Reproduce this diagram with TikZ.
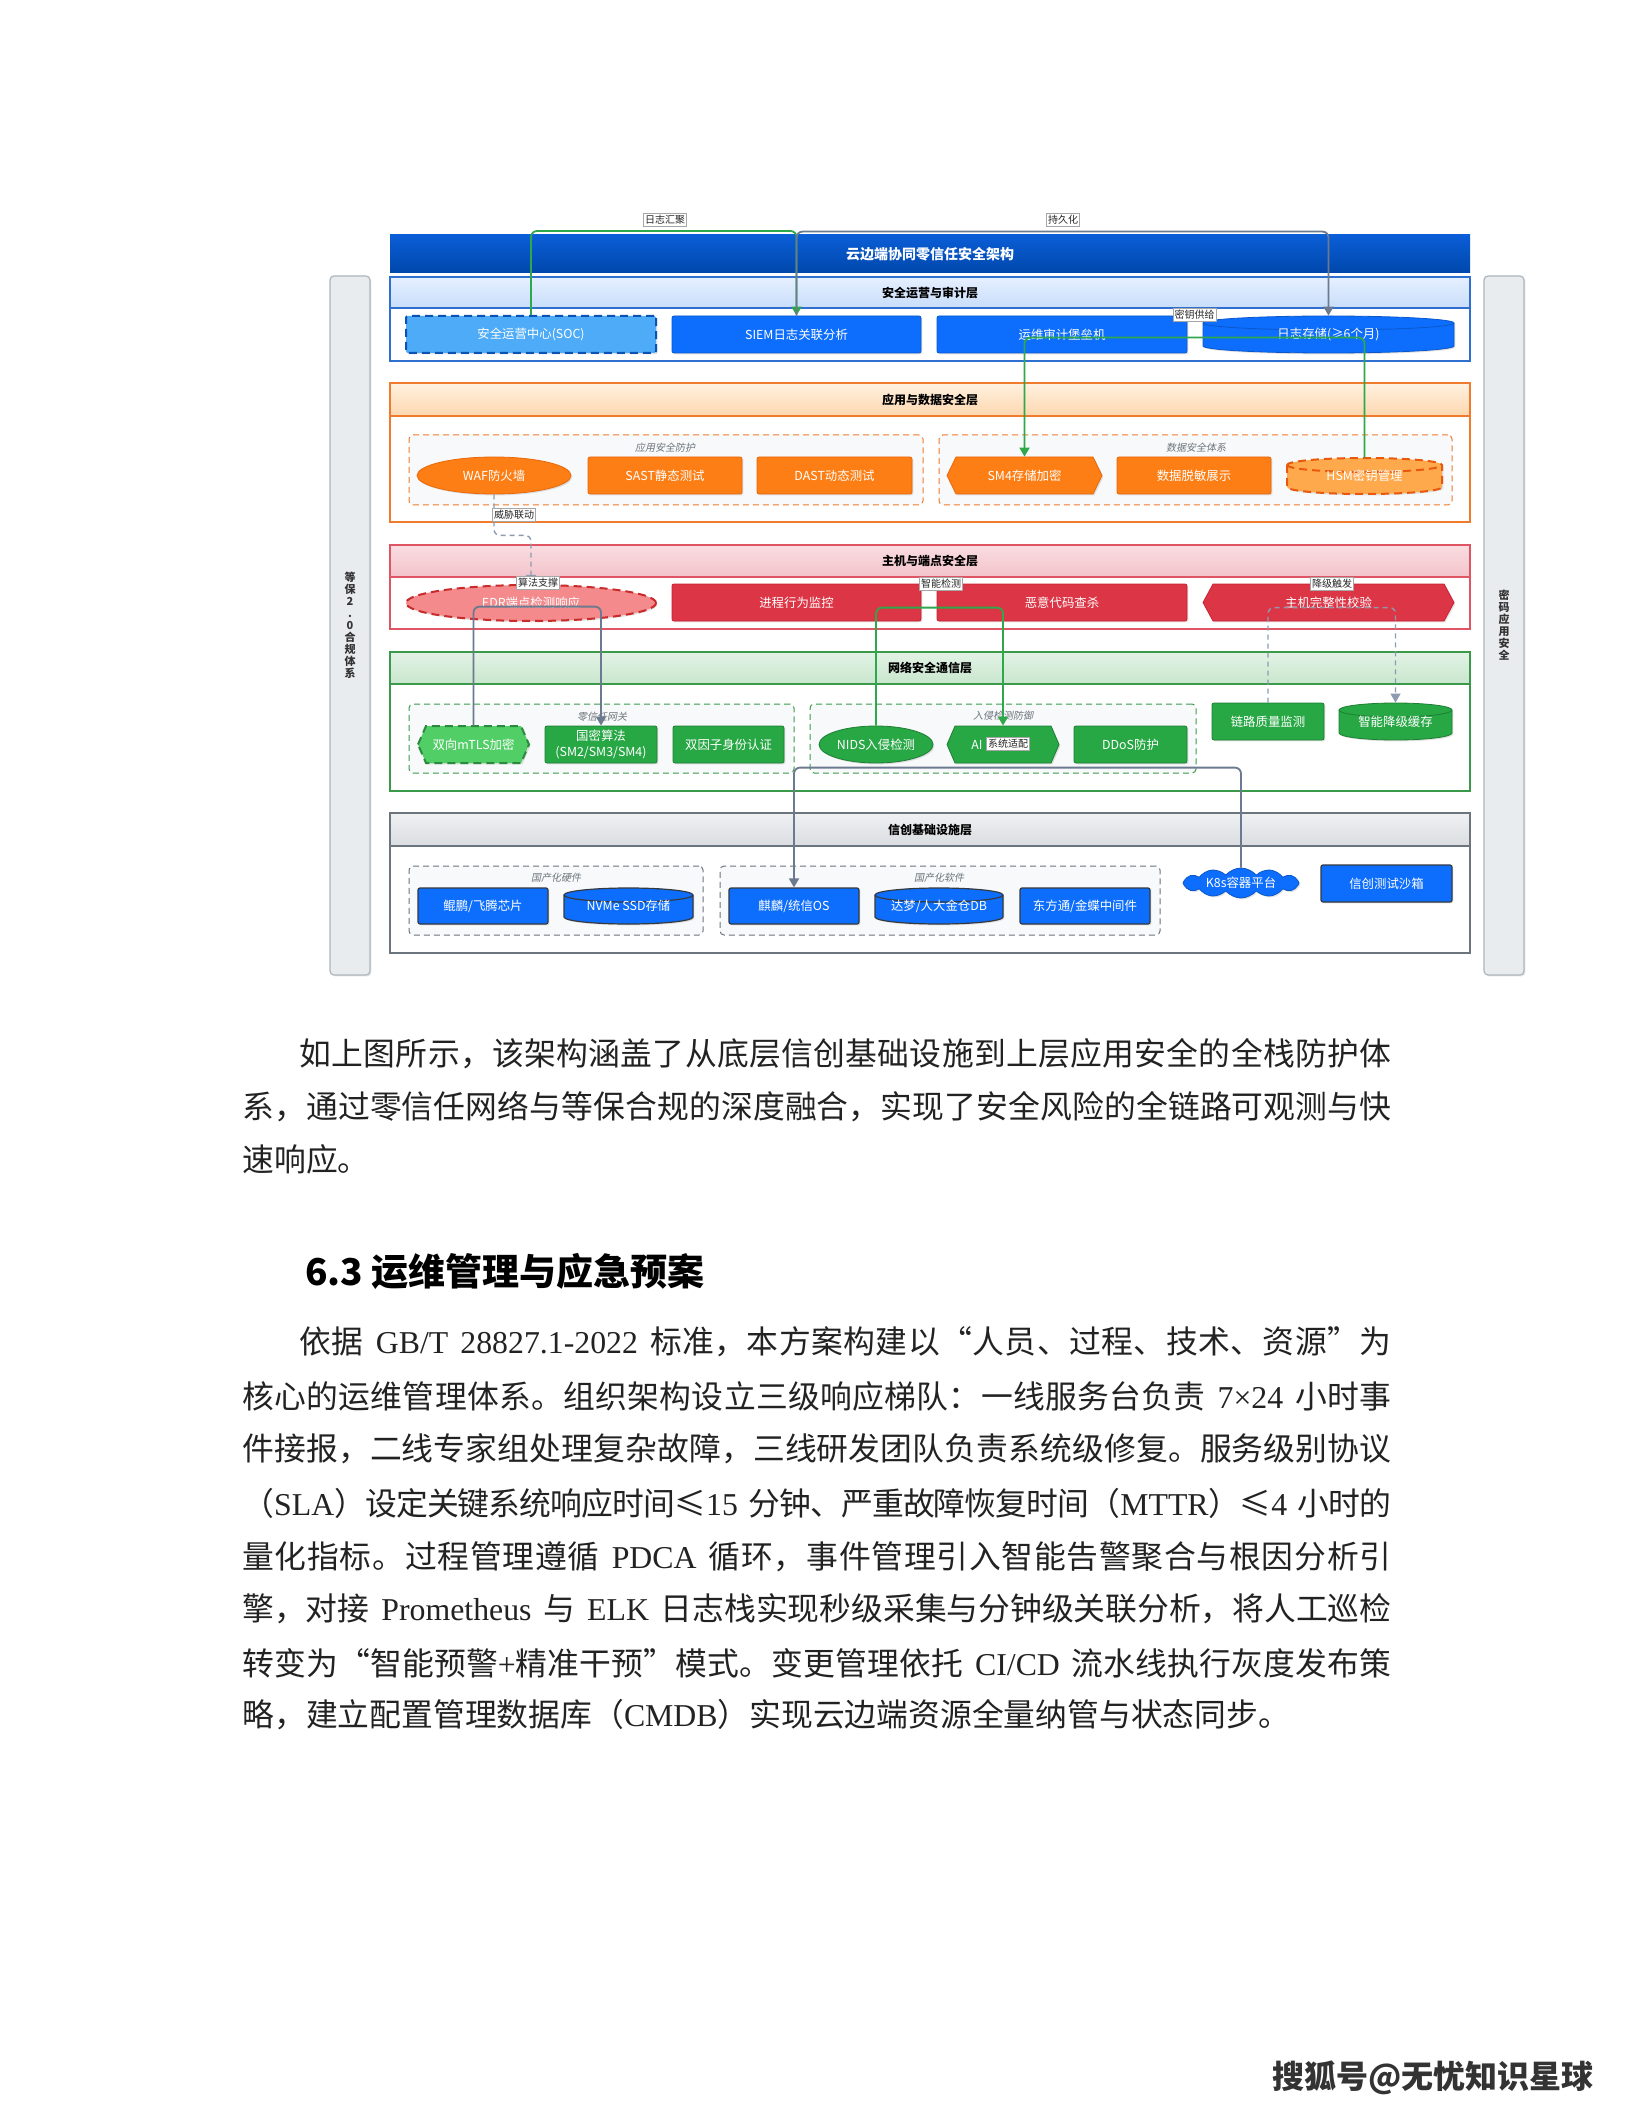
\documentclass[tikz,border=0pt]{standalone}
\usepackage{fontspec}
\setmainfont{Noto Sans CJK SC}
\newfontfamily\slantf[FakeSlant=0.2]{Noto Sans CJK SC}
\newfontfamily\lat{Liberation Serif}
\usetikzlibrary{shapes.geometric,shapes.symbols,arrows.meta,shadows}
\newcount\cjkc
\cjkc="4E00
\loop \XeTeXcharclass\cjkc=1 \advance\cjkc by 1 \ifnum\cjkc<"A000 \repeat
\cjkc="3000
\loop \XeTeXcharclass\cjkc=1 \advance\cjkc by 1 \ifnum\cjkc<"3040 \repeat
\cjkc="FF00
\loop \XeTeXcharclass\cjkc=1 \advance\cjkc by 1 \ifnum\cjkc<"FF60 \repeat
\XeTeXcharclass"201C=1
\XeTeXcharclass"201D=1
\XeTeXcharclass"2264=1
\XeTeXinterchartokenstate=1
\newcommand{\cjkglue}{\hskip 0pt plus 3pt minus 0.6pt\relax}
\newcommand{\ws}{\hskip 6pt plus 1pt minus 1pt\relax}
\XeTeXinterchartoks 1 1 = {\cjkglue}
\definecolor{cBlue}{HTML}{0D6EFD}
\definecolor{cBlueD}{HTML}{0A58CA}
\definecolor{cSOC}{HTML}{4DABF7}
\definecolor{cSOCD}{HTML}{0B52B5}
\definecolor{cOrg}{HTML}{FD7E14}
\definecolor{cOrgD}{HTML}{E8690B}
\definecolor{cHSM}{HTML}{FFA94D}
\definecolor{cHSMD}{HTML}{E8590C}
\definecolor{cRed}{HTML}{DC3545}
\definecolor{cRedD}{HTML}{C82333}
\definecolor{cEDR}{HTML}{F48A8C}
\definecolor{cEDRD}{HTML}{C92A2A}
\definecolor{cGrn}{HTML}{28A745}
\definecolor{cGrnD}{HTML}{1E7E34}
\definecolor{cMTLS}{HTML}{51CF66}
\definecolor{cMTLSD}{HTML}{2B8A3E}
\definecolor{cInfD}{HTML}{343A40}
\definecolor{cTitT}{HTML}{0B5ED7}
\definecolor{cTitB}{HTML}{0047AB}
\definecolor{cOpsB}{HTML}{2F6FD0}
\definecolor{cOpsT}{HTML}{E6F0FF}
\definecolor{cOpsH}{HTML}{C8DDFA}
\definecolor{cAppB}{HTML}{F07B2C}
\definecolor{cAppT}{HTML}{FFF1E0}
\definecolor{cAppH}{HTML}{FDD7AE}
\definecolor{cHostB}{HTML}{E05563}
\definecolor{cHostT}{HTML}{F9DDE1}
\definecolor{cHostH}{HTML}{F3C3CA}
\definecolor{cNetB}{HTML}{3A9A4A}
\definecolor{cNetT}{HTML}{E3F3E6}
\definecolor{cNetH}{HTML}{C8E6CD}
\definecolor{cInfB}{HTML}{6C757D}
\definecolor{cInfT}{HTML}{EFF1F3}
\definecolor{cInfH}{HTML}{DADDE1}
\definecolor{cGrpBg}{HTML}{F8F9FA}
\definecolor{cGrpTxt}{HTML}{6C757D}
\definecolor{cGLine}{HTML}{2EA84A}
\definecolor{cSLine}{HTML}{6B7A8F}
\definecolor{cDLine}{HTML}{8C9BB0}
\definecolor{cSide}{HTML}{E9ECEF}
\definecolor{cSideD}{HTML}{ADB5BD}
\definecolor{cBody}{HTML}{222222}
\newcommand{\hexa}[6]{%
 \path[#6] ({#1-#3/2},{#2}) -- ({#1-#3/2+#5},{#2-#4/2}) -- ({#1+#3/2-#5},{#2-#4/2}) -- ({#1+#3/2},{#2}) -- ({#1+#3/2-#5},{#2+#4/2}) -- ({#1-#3/2+#5},{#2+#4/2}) -- cycle;}
\newcommand{\cyl}[7]{%
 \pgfmathsetmacro\cyxl{#1-#3/2}%
 \pgfmathsetmacro\cyxr{#1+#3/2}%
 \pgfmathsetmacro\cyyt{#2-#4/2+#5}%
 \pgfmathsetmacro\cyyb{#2+#4/2-#5}%
 \pgfmathsetmacro\cykx{0.5523*#3/2}%
 \pgfmathsetmacro\cyky{0.5523*#5}%
 \path[#6] (\cyxl,\cyyt) -- (\cyxl,\cyyb)
   .. controls (\cyxl,\cyyb+\cyky) and (#1-\cykx,\cyyb+#5) .. (#1,\cyyb+#5)
   .. controls (#1+\cykx,\cyyb+#5) and (\cyxr,\cyyb+\cyky) .. (\cyxr,\cyyb)
   -- (\cyxr,\cyyt)
   .. controls (\cyxr,\cyyt-\cyky) and (#1+\cykx,\cyyt-#5) .. (#1,\cyyt-#5)
   .. controls (#1-\cykx,\cyyt-#5) and (\cyxl,\cyyt-\cyky) .. (\cyxl,\cyyt) -- cycle;
 \path[#7] (\cyxl,\cyyt)
   .. controls (\cyxl,\cyyt+\cyky) and (#1-\cykx,\cyyt+#5) .. (#1,\cyyt+#5)
   .. controls (#1+\cykx,\cyyt+#5) and (\cyxr,\cyyt+\cyky) .. (\cyxr,\cyyt);}
\newcommand{\bodyf}{\fontsize{15.9pt}{16pt}\selectfont}
\newcommand{\jl}[1]{\makebox[574.5pt][s]{#1}}
\begin{document}
\begin{tikzpicture}[x=0.5pt,y=-0.5pt,
 every node/.style={inner sep=0pt},
 wh/.style 2 args={minimum width=#1*0.5pt, minimum height=#2*0.5pt},
 shd/.style={drop shadow={opacity=0.22,shadow xshift=0.7pt,shadow yshift=-0.7pt}},
 bx/.style={rectangle, rounded corners=1pt, font=\fontsize{6.2pt}{7.6pt}\selectfont, text=white, align=center, shd},
 ellbx/.style={bx, ellipse},
 bluebx/.style={bx, fill=cBlue, draw=cBlueD, line width=0.4pt},
 orgbx/.style={bx, fill=cOrg, draw=cOrgD, line width=0.4pt},
 redbx/.style={bx, fill=cRed, draw=cRedD, line width=0.4pt},
 grnbx/.style={bx, fill=cGrn, draw=cGrnD, line width=0.4pt},
 infbx/.style={bx, fill=cBlue, draw=cInfD, line width=0.6pt},
 ghost/.style={rectangle, font=\fontsize{6.2pt}{7.6pt}\selectfont, text=white, align=center},
 dsh/.style={dash pattern=on 4pt off 2.5pt},
 lyr/.style={line width=0.7pt, fill=white},
 hdrband/.style={line width=0.7pt},
 hdrtxt/.style={font=\bfseries\fontsize{6pt}{7pt}\selectfont, text=black},
 grp/.style={dash pattern=on 3pt off 2pt, line width=0.5pt, fill=cGrpBg, rounded corners=2pt},
 grplbl/.style={font=\slantf\fontsize{5pt}{6pt}\selectfont, text=cGrpTxt},
 elbl/.style={fill=white, draw=black!35, line width=0.3pt, inner sep=0.8pt, font=\fontsize{5pt}{6pt}\selectfont, text=black!85},
 conn/.style={line width=0.9pt, rounded corners=3pt, -{Triangle[length=4.5pt,width=5pt]}},
 gconn/.style={conn, draw=cGLine, color=cGLine},
 sconn/.style={conn, draw=cSLine, color=cSLine},
 dconn/.style={conn, draw=cDLine, color=cDLine, line width=0.7pt, dash pattern=on 2.5pt off 2pt},
 sidebar/.style={rectangle, rounded corners=2pt, fill=cSide, draw=cSideD, line width=0.6pt, align=center, font=\bfseries\fontsize{5.5pt}{6pt}\selectfont, text=black!80, shd},
 titlebar/.style={rectangle, top color=cTitT, bottom color=cTitB, text=white, font=\bfseries\fontsize{7pt}{8pt}\selectfont},
 bodyline/.style={anchor=west, font=\bodyf, text=cBody}
]
\useasboundingbox[fill=white] (0,0) rectangle (1632,2112);

% side bars
\node[sidebar, wh={40}{699}] (lbar) at (350,625.5) {等\\保\\2\\.\\0\\合\\规\\体\\系};
\node[sidebar, wh={40}{699}] (rbar) at (1504,625.5) {密\\码\\应\\用\\安\\全};

% title
\node[titlebar, wh={1080}{38}] (title) at (930,254) {云边端协同零信任安全架构};

% ---------- Ops layer
\draw[lyr, draw=cOpsB] (390,277) rectangle (1470,361);
\path[hdrband, draw=cOpsB, top color=cOpsT, bottom color=cOpsH] (390,277) rectangle (1470,308);
\node[hdrtxt] (hops) at (930,292.5) {安全运营与审计层};
\node[bx, fill=cSOC, draw=cSOCD, line width=1pt, dsh, wh={250}{37}] (soc) at (531,334.5) {安全运营中心(SOC)};
\node[bluebx, wh={249}{37}] (siem) at (796.5,334.5) {SIEM日志关联分析};
\node[bluebx, wh={250}{37}] (audit) at (1062,334.5) {运维审计堡垒机};
\cyl{1328.5}{334.5}{251}{37}{7}{fill=cBlue, draw=cBlueD, line width=0.4pt, shd}{draw=cBlueD, line width=0.4pt}
\node[ghost, wh={251}{37}] (logst) at (1328.5,334.5) {日志存储(≥6个月)};

% ---------- App layer
\draw[lyr, draw=cAppB] (390,383) rectangle (1470,522);
\path[hdrband, draw=cAppB, top color=cAppT, bottom color=cAppH] (390,383) rectangle (1470,416);
\node[hdrtxt] (happ) at (930,399.5) {应用与数据安全层};
\node[grp, draw=cAppB, wh={514}{70}] (gapp1) at (666,470) {};
\node[grplbl] (lapp1) at (665,448) {应用安全防护};
\node[grp, draw=cAppB, wh={513}{70}] (gapp2) at (1195.5,470) {};
\node[grplbl] (lapp2) at (1196,448) {数据安全体系};
\node[ellbx, fill=cOrg, draw=cOrgD, line width=0.4pt, wh={154}{37}] (waf) at (494,475.5) {WAF防火墙};
\node[orgbx, wh={154}{37}] (sast) at (665,475.5) {SAST静态测试};
\node[orgbx, wh={155}{37}] (dast) at (834.5,475.5) {DAST动态测试};
\hexa{1024.5}{475.5}{155}{37}{9}{fill=cOrg, draw=cOrgD, line width=0.4pt, shd}
\node[ghost, wh={155}{37}] (sm4) at (1024.5,475.5) {SM4存储加密};
\node[orgbx, wh={154}{37}] (mask) at (1194,475.5) {数据脱敏展示};
\cyl{1364.5}{476}{155}{36}{7}{fill=cHSM, draw=cHSMD, line width=1pt, dsh, shd}{draw=cHSMD, line width=1pt, dsh}
\node[ghost, wh={155}{36}] (hsm) at (1364.5,476) {HSM密钥管理};

% ---------- Host layer
\draw[lyr, draw=cHostB] (390,545) rectangle (1470,629);
\path[hdrband, draw=cHostB, top color=cHostT, bottom color=cHostH] (390,545) rectangle (1470,577);
\node[hdrtxt] (hhost) at (930,561) {主机与端点安全层};
\node[ellbx, fill=cEDR, draw=cEDRD, line width=1pt, dsh, wh={250}{36}] (edr) at (531,603) {EDR端点检测响应};
\node[redbx, wh={249}{37}] (proc) at (796.5,602.5) {进程行为监控};
\node[redbx, wh={250}{37}] (mal) at (1062,602.5) {恶意代码查杀};
\hexa{1328.5}{602.5}{251}{37}{10}{fill=cRed, draw=cRedD, line width=0.4pt, shd}
\node[ghost, wh={251}{37}] (integ) at (1328.5,602.5) {主机完整性校验};

% ---------- Network layer
\draw[lyr, draw=cNetB] (390,652) rectangle (1470,791);
\path[hdrband, draw=cNetB, top color=cNetT, bottom color=cNetH] (390,652) rectangle (1470,684);
\node[hdrtxt] (hnet) at (930,668) {网络安全通信层};
\node[grp, draw=cNetB, wh={385}{69}] (gnet1) at (601.5,738.5) {};
\node[grplbl] (lnet1) at (602,717) {零信任网关};
\node[grp, draw=cNetB, wh={386}{69}] (gnet2) at (1003,738.5) {};
\node[grplbl] (lnet2) at (1003,716) {入侵检测防御};
\hexa{473.5}{744.5}{111}{37}{8}{fill=cMTLS, draw=cMTLSD, line width=1pt, dsh, shd}
\node[ghost, wh={111}{37}] (mtls) at (473.5,744.5) {双向mTLS加密};
\node[grnbx, wh={112}{37}] (gm) at (601,744.5) {国密算法\\(SM2/SM3/SM4)};
\node[grnbx, wh={111}{37}] (mfa) at (728.5,744.5) {双因子身份认证};
\node[ellbx, fill=cGrn, draw=cGrnD, line width=0.4pt, wh={114}{37}] (nids) at (876,744.5) {NIDS入侵检测};
\hexa{1003}{744.5}{112}{37}{8}{fill=cGrn, draw=cGrnD, line width=0.4pt, shd}
\node[ghost, wh={112}{37}] (ai) at (1003,744.5) {};
\node[ghost] (aitxt) at (977,744.5) {AI};
\node[grnbx, wh={113}{37}] (ddos) at (1130.5,744.5) {DDoS防护};
\node[grnbx, wh={112}{37}] (link) at (1268,721.5) {链路质量监测};
\cyl{1395.5}{721.5}{113}{37}{7}{fill=cGrn, draw=cGrnD, line width=0.4pt, shd}{draw=cGrnD, line width=0.4pt}
\node[ghost, wh={113}{37}] (cache) at (1395.5,721.5) {智能降级缓存};

% ---------- Infra layer
\draw[lyr, draw=cInfB] (390,813) rectangle (1470,953);
\path[hdrband, draw=cInfB, top color=cInfT, bottom color=cInfH] (390,813) rectangle (1470,846);
\node[hdrtxt] (hinf) at (930,829.5) {信创基础设施层};
\node[grp, draw=cInfB, wh={294}{69}] (ginf1) at (556,900.5) {};
\node[grplbl] (linf1) at (556,878) {国产化硬件};
\node[grp, draw=cInfB, wh={440}{69}] (ginf2) at (940,900.5) {};
\node[grplbl] (linf2) at (939,878) {国产化软件};
\node[infbx, wh={130}{36}] (cpu) at (483,906) {鲲鹏/飞腾芯片};
\cyl{628.5}{906}{129}{36}{7}{fill=cBlue, draw=cInfD, line width=0.6pt, shd}{draw=cInfD, line width=0.6pt}
\node[ghost, wh={129}{36}] (ssd) at (628.5,906) {NVMe SSD存储};
\node[infbx, wh={130}{36}] (os) at (794,906) {麒麟/统信OS};
\cyl{939}{906}{128}{36}{7}{fill=cBlue, draw=cInfD, line width=0.6pt, shd}{draw=cInfD, line width=0.6pt}
\node[ghost, wh={128}{36}] (db) at (939,906) {达梦/人大金仓DB};
\node[infbx, wh={130}{36}] (mw) at (1085,906) {东方通/金蝶中间件};
\node[cloud, cloud puffs=12, cloud puff arc=100, cloud ignores aspect, fill=cBlue, draw=cBlueD, line width=0.4pt, text=white, font=\fontsize{6.2pt}{7.6pt}\selectfont, shd, wh={116}{30}] (k8s) at (1241,883) {K8s容器平台};
\node[infbx, wh={131}{37}] (sandbox) at (1386.5,883.5) {信创测试沙箱};

% ---------- connectors
\draw[gconn] (soc.north) -- ++(0,-84) -| (siem.north);
\draw[sconn] (siem.north) -- ++(0,-84) -| (logst.north);
\draw[gconn] (hsm.north) -- ++(0,-120) -| (sm4.north);
\draw[dconn] (waf.south) -- ++(0,41) -| (edr.north);
\draw[sconn] (mtls.north) -- ++(0,-119) -| (gm.north);
\draw[gconn] (nids.north) -- ++(0,-118) -| (ai.north);
\draw[dconn] (link.north) -- ++(0,-95) -| (cache.north);
\draw[sconn] (k8s.north) -- ++(0,-100) -| (os.north);

% ---------- connector labels
\node[elbl] (e1) at (665,220) {日志汇聚};
\node[elbl] (e2) at (1063,220) {持久化};
\node[elbl] (e3) at (1194.5,315) {密钥供给};
\node[elbl] (e4) at (514,515) {威胁联动};
\node[elbl] (e5) at (538,583) {算法支撑};
\node[elbl] (e6) at (941,584) {智能检测};
\node[elbl] (e7) at (1332,584) {降级触发};
\node[elbl] (e8) at (1008,744) {系统适配};

% ---------- page text
\node[bodyline] (p1a) at (242,1054) {\jl{\hspace*{1.8em}如上图所示，该架构涵盖了从底层信创基础设施到上层应用安全的全栈防护体}};
\node[bodyline] (p1b) at (242,1107) {\jl{系，通过零信任网络与等保合规的深度融合，实现了安全风险的全链路可观测与快}};
\node[bodyline] (p1c) at (242,1159) {速响应。};

\node[anchor=west, text=black, font=\bfseries\fontsize{18.5pt}{19pt}\selectfont] (h63) at (305,1271) {6.3 运维管理与应急预案};

\node[bodyline] (p2a) at (242,1342) {\jl{\hspace*{1.8em}依据\ws{\lat GB/T\ws 28827.1-2022}\ws 标准，本方案构建以“人员、过程、技术、资源”为}};
\node[bodyline] (p2b) at (242,1396) {\jl{核心的运维管理体系。组织架构设立三级响应梯队：一线服务台负责\ws{\lat 7×24}\ws 小时事}};
\node[bodyline] (p2c) at (242,1449) {\jl{件接报，二线专家组处理复杂故障，三线研发团队负责系统级修复。服务级别协议}};
\node[bodyline] (p2d) at (242,1503) {\jl{（{\lat SLA}）设定关键系统响应时间≤{\lat 15}\ws 分钟、严重故障恢复时间（{\lat MTTR}）≤{\lat 4}\ws 小时的}};
\node[bodyline] (p2e) at (242,1557) {\jl{量化指标。过程管理遵循\ws{\lat PDCA}\ws 循环，事件管理引入智能告警聚合与根因分析引}};
\node[bodyline] (p2f) at (242,1609) {\jl{擎，对接\ws{\lat Prometheus}\ws 与\ws{\lat ELK}\ws 日志栈实现秒级采集与分钟级关联分析，将人工巡检}};
\node[bodyline] (p2g) at (242,1663) {\jl{转变为“智能预警{\lat +}精准干预”模式。变更管理依托\ws{\lat CI/CD}\ws 流水线执行灰度发布策}};
\node[bodyline] (p2h) at (242,1715) {略，建立配置管理数据库（{\lat CMDB}）实现云边端资源全量纳管与状态同步。};

\node[anchor=west, text=black!80, font=\bfseries\fontsize{16pt}{17pt}\selectfont] (foot) at (1272,2078) {搜狐号@无忧知识星球};
\end{tikzpicture}
\end{document}
